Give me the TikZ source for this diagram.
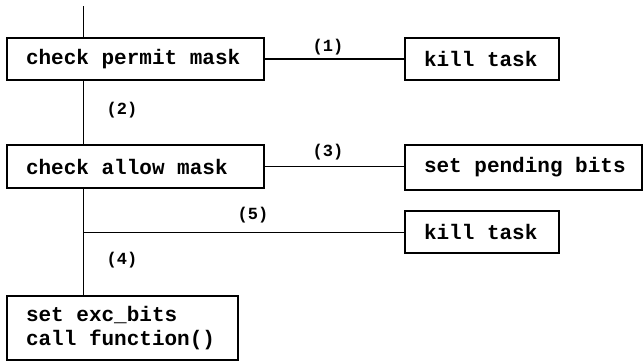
\documentclass[tikz,border=0pt]{standalone}
\usepackage{fontspec}
\newfontfamily\courfont{Liberation Mono}[BoldFont={Liberation Mono Bold}]
\newcommand\ws{\hspace*{0.6em}}
\begin{document}
\begin{tikzpicture}[x=1pt,y=-1pt,
  box/.style={draw, line width=1.6pt, rectangle, inner ysep=0pt, inner xsep=19pt, align=left,
    font=\courfont\bfseries\fontsize{21}{24}\selectfont},
  conn/.style={line width=1.2pt},
  thin/.style={line width=0.9pt},
  lab/.style={font=\courfont\bfseries\fontsize{17}{20}\selectfont, inner sep=0pt}]
\useasboundingbox (0,0) rectangle (644,362);
\node[box, text width=219pt, minimum height=42pt] (b1) at (135.5,59) {check\ws permit\ws mask};
\node[box, text width=116pt, minimum height=42pt] (k1) at (482,59) {kill\ws task};
\node[box, text width=219pt, minimum height=43pt] (b2) at (135.5,166.5) {check\ws allow\ws mask};
\node[box, text width=199pt, minimum height=45pt] (pend) at (523.5,167.5) {set\ws pending\ws bits};
\node[box, text width=116pt, minimum height=42pt] (k2) at (482,232) {kill\ws task};
\node[box, text width=193pt, minimum height=64pt] (b3) at (122.5,328) {set\ws exc\_bits\\call\ws function()};
\coordinate (top) at (83,6);
\draw[thin] (top) -- (top |- b1.north);
\draw[thin] (top |- b1.south) -- (top |- b2.north);
\draw[thin] (top |- b2.south) -- (top |- b3.north);
\draw[conn] (b1.east) -- (k1.west);
\draw[conn] (b2.east) -- (b2.east -| pend.west);
\draw[thin] (top |- k2.west) -- (k2.west);
\node[lab] (l1) at (328,47) {(1)};
\node[lab] (l2) at (122,110) {(2)};
\node[lab] (l3) at (328,152) {(3)};
\node[lab] (l5) at (253,215) {(5)};
\node[lab] (l4) at (122,260) {(4)};
\end{tikzpicture}
\end{document}
